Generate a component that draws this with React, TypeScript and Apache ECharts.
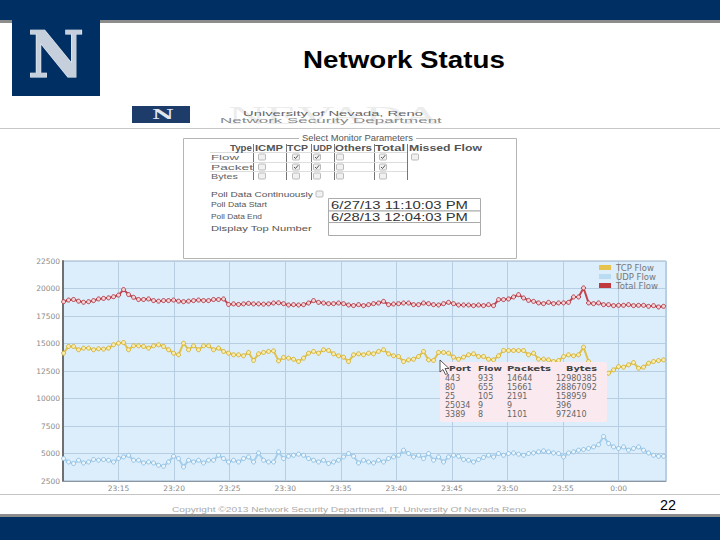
import React, { useEffect, useRef } from 'react';
import * as echarts from 'echarts';

// ---------------- data ----------------
const SERIES_NAMES = ['TCP Flow', 'UDP Flow', 'Total Flow'];
const START_MINUTE = 10.05; // 23:10:03 expressed as minutes after 23:00
const STEP_MINUTES = 0.45; // 27 s between polls (23:10:03 .. 0:04:03, 121 polls)
const X_TICK_MINUTES = [15, 20, 25, 30, 35, 40, 45, 50, 55, 60];
const X_TICK_LABELS = ['23:15', '23:20', '23:25', '23:30', '23:35', '23:40', '23:45', '23:50', '23:55', '0:00'];

const TCP_FLOW = [
  14120, 14730, 14730, 14430, 14580, 14580, 14430, 14520, 14490, 14580, 14880, 15030, 15090, 14430, 14790, 14790, 14730, 14580, 14790, 14880, 14730, 14430, 14120, 13970, 15030, 14430, 14790, 14430, 14790, 14790,
  14430, 14580, 14280, 14120, 13970, 13970, 13880, 14190, 13460, 14060, 14190, 14280, 14330, 13420, 13730, 13670, 13570, 13360, 13670, 14120, 14280, 14120, 14430, 14370, 14060, 13880, 13760, 13360, 13970,
  14060, 13970, 14120, 14060, 14280, 14430, 14060, 13880, 13820, 13360, 13510, 13570, 13820, 14280, 13510, 13460, 14190, 14190, 14120, 13760, 13570, 13760, 13970, 14060, 13820, 13820, 13570, 13510, 13880, 14370,
  14360, 14360, 14360, 14360, 13970, 14120, 13580, 13580, 13510, 13360, 13450, 13810, 13970, 13880, 13970, 14670, 13360, 12900, 12550, 12450, 12300, 12600, 12900, 12850, 13060, 13270, 12750, 12850, 13210, 13360, 13450, 13510,
];
const UDP_FLOW = [
  4540, 4230, 4090, 4390, 4140, 4230, 4450, 4390, 4450, 4390, 4230, 4540, 4690, 4840, 4390, 4390, 4140, 4230, 4140, 3930, 3840, 4230, 4750, 4540, 3780, 4390, 4230, 4390, 4140, 4390,
  4390, 4840, 4540, 4230, 4390, 4230, 4540, 4690, 4230, 5050, 4390, 4230, 4230, 5150, 4540, 4750, 4840, 4940, 4840, 4540, 4390, 4230, 4390, 4090, 4230, 4390, 4690, 5000, 4750,
  4140, 4390, 4230, 4140, 4390, 4230, 4540, 4690, 4840, 5300, 5000, 4690, 4840, 4540, 5000, 4390, 4690, 4230, 4690, 4840, 4750, 4450, 4390, 4230, 4450, 4640, 4840, 4690, 5000, 4840,
  5000, 5050, 4940, 4840, 5000, 5050, 5150, 5240, 5150, 5050, 5000, 4690, 5050, 5150, 5300, 5360, 5460, 5600, 5800, 6550, 5910, 5600, 5460, 5600, 5300, 5460, 5600, 5300, 5050, 4840, 4750, 4750,
];
const TOTAL_FLOW = [
  18800, 18950, 19000, 18850, 18750, 18800, 18900, 19050, 19100, 19150, 19250, 19400, 19900, 19450, 19200, 19000, 19000, 19050, 18900, 18850, 18900, 18900, 18950, 18850, 18800, 18850, 18900, 18950, 18900, 18900,
  19000, 19000, 19050, 18550, 18600, 18550, 18600, 18650, 18600, 18600, 18580, 18600, 18680, 18700, 18620, 18500, 18530, 18500, 18530, 18680, 18900, 18740, 18680, 18620, 18620, 18680, 18620, 18500, 18450,
  18530, 18440, 18530, 18620, 18680, 18830, 18530, 18590, 18620, 18680, 18680, 18530, 18530, 18680, 18620, 18530, 18500, 18620, 18740, 18620, 18500, 18500, 18500, 18440, 18500, 18440, 18530, 18440, 18990, 18990,
  19050, 19230, 19440, 19140, 18920, 18830, 18690, 18620, 18740, 18620, 18690, 18690, 18740, 19230, 19230, 20050, 18690, 18620, 18690, 18530, 18530, 18440, 18470, 18470, 18530, 18440, 18470, 18470, 18380, 18440, 18320, 18380,
];

const TOP_HEADERS = ['Port', 'Flow', 'Packets', 'Bytes'];
const TOP_ROWS = [
  ['443', '933', '14644', '12980385'],
  ['80', '655', '15661', '28867092'],
  ['25', '105', '2191', '158959'],
  ['25034', '9', '9', '396'],
  ['3389', '8', '1101', '972410'],
];

const FORM_COLUMNS = ['ICMP', 'TCP', 'UDP', 'Others', 'Total', 'Missed Flow'];
const FORM_ROWS = ['Flow', 'Packet', 'Bytes'];
const FORM_CHECKED = [
  [false, true, true, false, true, false],
  [false, true, true, false, true, null],
  [false, false, false, false, false, null],
];

// ---------------- helpers ----------------
const NAVY = '#002f64';
let ctx2d: CanvasRenderingContext2D | null = null;
function measure(text: string, size: number, weight: string, family: string) {
  if (!ctx2d) ctx2d = document.createElement('canvas').getContext('2d');
  if (!ctx2d) return 1;
  ctx2d.font = `${weight} ${size}px "${family}"`;
  return ctx2d.measureText(text).width || 1;
}
function txt(text: string, x: number, y: number, size: number, o: any = {}) {
  const family = o.family || 'Liberation Sans';
  const weight = o.weight || 'normal';
  const el: any = {
    type: 'text', x, y, z: o.z ?? 5,
    style: {
      text, fontSize: size, fontFamily: family, fontWeight: weight, fill: o.fill || '#555',
      stroke: o.stroke || null, lineWidth: o.lw || 0,
      align: 'left', verticalAlign: 'middle', textAlign: 'left', textVerticalAlign: 'middle',
    },
  };
  if (o.w) el.scaleX = o.w / measure(text, size, weight, family);
  return el;
}
function rect(x: number, y: number, w: number, h: number, fill: string, o: any = {}) {
  return { type: 'rect', z: o.z ?? 2, shape: { x, y, width: w, height: h, r: o.r || 0 }, style: { fill, stroke: o.stroke || null, lineWidth: o.lw || 1 } };
}
function line(x1: number, y1: number, x2: number, y2: number, stroke: string, lw = 1, z = 3) {
  return { type: 'line', z, shape: { x1, y1, x2, y2 }, style: { stroke, lineWidth: lw } };
}

function buildGraphic() {
  const g: any[] = [];
  // slide frame
  g.push(rect(0, 0, 720, 20, NAVY));
  g.push(rect(0, 20, 720, 3, '#8c8c8c'));
  g.push(rect(12, 0, 88, 96, NAVY, { z: 3 }));
  g.push(txt('N', 28, 55, 64, { family: 'DejaVu Serif', weight: 'bold', fill: '#c6d0dc', stroke: '#eef2f6', lw: 1.2, w: 56 }));
  g.push(txt('Network Status', 303, 60, 24, { weight: 'bold', fill: '#000', w: 202 }));
  g.push(rect(0, 514, 720, 3, '#8c8c8c'));
  g.push(rect(0, 517, 720, 23, NAVY));
  g.push(txt('22', 660, 505, 15, { fill: '#000', w: 16 }));
  g.push(txt('Copyright ©2013 Network Security Department, IT, University Of Nevada Reno', 172, 510, 7, { fill: '#aaaaaa', w: 355 }));

  // screenshot header
  g.push(txt('NEVADA', 228, 115, 26, { family: 'Liberation Serif', fill: '#ececec', w: 212, z: 1 }));
  g.push(rect(132, 106, 58, 17, '#1d3c6a'));
  g.push(txt('N', 152, 115, 13, { family: 'DejaVu Serif', weight: 'bold', fill: '#dfe6ee', w: 22 }));
  g.push(txt('University of Nevada, Reno', 243, 113, 7.5, { fill: '#666', w: 180 }));
  g.push(txt('Network Security Department', 220, 121, 6.5, { fill: '#8a8a8a', w: 222 }));
  g.push(line(0, 128.5, 720, 128.5, '#c8c8c8'));

  // form
  g.push(rect(183.5, 138.5, 333, 120, 'none', { stroke: '#b5b5b5' }));
  g.push(rect(299, 133, 117, 10, '#ffffff', { z: 4 }));
  g.push(txt('Select Monitor Parameters', 302, 138.5, 8.5, { fill: '#555', w: 111 }));
  g.push(txt('Type', 230, 148, 8.5, { weight: 'bold', fill: '#555', w: 22 }));
  const colX = [255, 287, 313, 335, 375, 409];
  const colW = [28, 21, 19, 37, 30, 73];
  FORM_COLUMNS.forEach((c, i) => g.push(txt(c, colX[i], 148, 8.5, { weight: 'bold', fill: '#555', w: colW[i] })));
  [253, 286, 311, 334, 374, 407].forEach((x) => g.push(line(x + 0.5, 144, x + 0.5, 180, '#777')));
  [152.5, 162.5, 171.5].forEach((y) => g.push(line(210, y, 407, y, '#dddddd')));
  const rowY = [157, 167, 176];
  const rowW = [28, 42, 27];
  const boxX = [262, 296, 317, 340, 383, 415];
  FORM_ROWS.forEach((r, ri) => {
    g.push(txt(r, 211, rowY[ri], 8, { fill: '#666', w: rowW[ri] }));
    FORM_CHECKED[ri].forEach((chk, ci) => {
      if (chk === null) return;
      const cx = boxX[ci], cy = rowY[ri];
      g.push(rect(cx - 3.5, cy - 3, 7, 6, '#f1f1f1', { stroke: '#bbbbbb', r: 1 }));
      if (chk) g.push({ type: 'polyline', z: 4, shape: { points: [[cx - 2, cy], [cx - 0.5, cy + 1.5], [cx + 2.2, cy - 1.8]] }, style: { stroke: '#555', fill: 'none', lineWidth: 1 } });
    });
  });
  g.push(txt('Poll Data Continuously', 211, 194, 8, { fill: '#555', w: 102 }));
  g.push(rect(316, 191, 7, 6, '#f1f1f1', { stroke: '#bbbbbb', r: 1 }));
  g.push(txt('Poll Data Start', 211, 204.5, 8, { fill: '#555', w: 56 }));
  g.push(txt('Poll Data End', 211, 216.5, 8, { fill: '#555', w: 51 }));
  g.push(txt('Display Top Number', 211, 228.5, 8, { fill: '#555', w: 101 }));
  g.push(rect(328.5, 198.5, 152, 12.5, '#fff', { stroke: '#aaaaaa' }));
  g.push(rect(328.5, 211, 152, 11.5, '#fff', { stroke: '#aaaaaa' }));
  g.push(rect(328.5, 222.5, 152, 13, '#fff', { stroke: '#aaaaaa' }));
  g.push(txt('6/27/13 11:10:03 PM', 331, 205, 11, { fill: '#333', w: 137 }));
  g.push(txt('6/28/13 12:04:03 PM', 331, 216.8, 11, { fill: '#333', w: 137 }));

  // chart frame line under axis labels
  g.push(line(0, 494.5, 720, 494.5, '#c4c4c4'));

  // tooltip box with top ports
  g.push(rect(440, 362, 167, 60, 'rgba(251,233,239,0.96)', { z: 100, r: 2 }));
  const hx = [449, 478, 507, 566];
  const hw = [22, 24, 44, 31];
  TOP_HEADERS.forEach((h, i) => g.push(txt(h, hx[i], 368.5, 7.5, { family: 'DejaVu Sans', weight: 'bold', fill: '#444', w: hw[i], z: 101 })));
  const cx = [445, 478, 507, 556];
  const ry = [378, 387, 396, 405, 414];
  TOP_ROWS.forEach((row, ri) => row.forEach((c, ci) => g.push(txt(c, cx[ci], ry[ri], 8, { family: 'DejaVu Sans', fill: '#666', z: 101 }))));
  g.push({ type: 'polygon', z: 102, shape: { points: [[440, 360], [440, 372], [443, 369.5], [445.5, 374.5], [447.5, 373.5], [445, 368.5], [449, 368.5]] }, style: { fill: '#ffffff', stroke: '#333', lineWidth: 0.8 } });
  return g;
}

function toPoints(values: number[]) {
  return values.map((v, i) => [START_MINUTE + i * STEP_MINUTES, v]);
}

const LINE_STYLES = [
  { line: '#e0c24a', fill: '#f9ecad', border: '#d4b236', legend: '#e6c24e' },
  { line: '#a4cfec', fill: '#eef7fd', border: '#8dc0e4', legend: '#b9dcf2' },
  { line: '#c2444e', fill: '#f6d3d6', border: '#b33a45', legend: '#c0393f' },
];

export default function App() {
  const ref = useRef<HTMLDivElement>(null);
  useEffect(() => {
    if (!ref.current) return;
    const chart = echarts.init(ref.current, null, { renderer: 'svg' });
    const seriesData = [TCP_FLOW, UDP_FLOW, TOTAL_FLOW];
    chart.setOption({
      animation: false,
      backgroundColor: '#ffffff',
      grid: { left: 63, top: 261, width: 603, height: 220, show: true, backgroundColor: '#dcedfc', borderColor: '#9fb0c0', borderWidth: 1 },
      legend: {
        left: 599, top: 263, orient: 'vertical', padding: 0, itemGap: 0, itemWidth: 12, itemHeight: 5, icon: 'rect',
        textStyle: { fontSize: 8.5, color: '#777', fontFamily: 'DejaVu Sans', lineHeight: 8 },
        data: SERIES_NAMES.map((n, i) => ({ name: n, icon: 'rect', itemStyle: { color: LINE_STYLES[i].legend, borderWidth: 0 } })),
      },
      xAxis: {
        type: 'value', min: 10, max: 64.27, interval: 5,
        axisLine: { show: true, lineStyle: { color: '#8a96a3' } },
        axisTick: { show: false },
        splitLine: { show: true, lineStyle: { color: '#b7cde2', width: 1 } },
        axisLabel: {
          fontSize: 7.5, color: '#8a8a8a', fontFamily: 'DejaVu Sans', margin: 3, showMinLabel: false, showMaxLabel: false,
          formatter: (v: number) => {
            const idx = X_TICK_MINUTES.indexOf(Math.round(v));
            return idx >= 0 ? X_TICK_LABELS[idx] : '';
          },
        },
      },
      yAxis: {
        type: 'value', min: 2500, max: 22500, interval: 2500,
        axisLine: { show: true, lineStyle: { color: '#707070', width: 2 } },
        axisTick: { show: false },
        splitLine: { show: true, lineStyle: { color: '#b7cde2', width: 1 } },
        axisLabel: { fontSize: 7.5, color: '#8a8a8a', fontFamily: 'DejaVu Sans', margin: 3, formatter: (v: number) => String(v) },
      },
      series: SERIES_NAMES.map((name, i) => ({
        name, type: 'line', data: toPoints(seriesData[i]),
        symbol: 'circle', symbolSize: 4, showSymbol: true, showAllSymbol: true,
        lineStyle: { color: LINE_STYLES[i].line, width: 2 },
        itemStyle: { color: LINE_STYLES[i].fill, borderColor: LINE_STYLES[i].border, borderWidth: 1 },
        emphasis: { disabled: true },
        z: 3,
      })),
      graphic: buildGraphic(),
    });
    return () => chart.dispose();
  }, []);
  return <div ref={ref} style={{ position: 'absolute', left: 0, top: 0, width: 720, height: 540 }} />;
}
